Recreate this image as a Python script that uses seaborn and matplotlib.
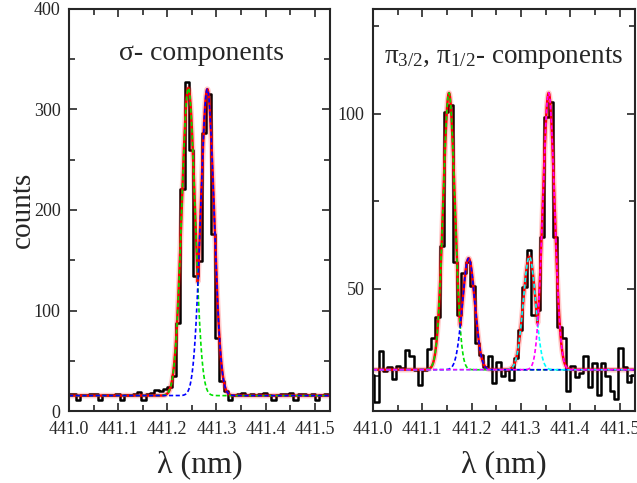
import numpy as np
import pandas as pd
import matplotlib
matplotlib.use('Agg')
import matplotlib.pyplot as plt
from matplotlib.ticker import MultipleLocator, FormatStrFormatter
import seaborn as sns

# --- sigma components (left panel) ---
sigma_x0 = 440.9969          # first bin edge (nm)
bin_w = 0.00883              # bin width (nm)
sigma_counts = [16.5, 16.5, 11, 15.5, 15.5, 16.5, 16.5, 11, 15.5, 15.5,
                15.5, 16.5, 11, 15.5, 15.5, 17, 18.5, 11, 16.5, 17.5,
                20.5, 19.5, 22, 24, 35, 88, 221, 327, 260, 134,
                149, 277, 315, 176, 73, 30, 20, 11, 16, 16.5,
                18, 16, 16.5, 15.5, 16.5, 18, 16, 11, 15.5, 16.5,
                16.5, 17.5, 11, 16.5, 17, 15.5, 17, 11, 15.5, 16.5, 15.5]
sigma_base = 15.3
sigma_centers = [441.2428, 441.2814]
sigma_amps = [306, 305]
sigma_widths = [0.0135, 0.0135]
sigma_colors = ['#00e000', '#0000ff']

# --- pi components (right panel) ---
pi_x0 = 440.99387
pi_counts = [25.3, 17.7, 32.3, 26.3, 27.7, 24.2, 28.0, 27.2, 32.5, 30.8,
             26.8, 22.3, 26.6, 32.7, 35.8, 42.0, 62.3, 100.6, 102.5, 57.5,
             42.5, 54.4, 57.7, 50.8, 34.4, 31.0, 27.7, 30.6, 23.0, 29.1,
             24.9, 26.8, 23.9, 30.1, 38.2, 50.6, 61.0, 42.5, 43.9, 64.9,
             99.0, 103.4, 64.9, 39.1, 35.8, 20.6, 28.0, 24.6, 25.8, 30.6,
             22.0, 28.7, 19.6, 28.7, 24.9, 20.6, 18.4, 33.0, 27.5, 23.4, 25.3]
pi_base = 26.8
pi_centers = [441.154, 441.1938, 441.317, 441.356]
pi_amps = [79.2, 31.9, 32.3, 79.2]
pi_widths = [0.0118, 0.0125, 0.0125, 0.0118]
pi_colors = ['#00e000', '#0000ff', '#00ffff', '#ff00ff']

xlim = (441.0, 441.531)

sns.set_style('ticks')
plt.rcParams['font.family'] = ['Liberation Serif', 'DejaVu Serif']
plt.rcParams['mathtext.fontset'] = 'custom'
plt.rcParams['mathtext.rm'] = 'Liberation Serif'
plt.rcParams['mathtext.it'] = 'Liberation Serif:italic'
plt.rcParams['axes.linewidth'] = 1.5


def hist_frame(x0, counts):
    n = len(counts)
    edges = x0 + bin_w * np.arange(n + 1)
    return pd.DataFrame({'x': edges, 'y': list(counts) + [counts[-1]]})


def draw_panel(ax, x0, counts, base, centers, amps, widths, colors):
    df = hist_frame(x0, counts)
    sns.lineplot(data=df, x='x', y='y', ax=ax, color='black', lw=1.8,
                 drawstyle='steps-post', estimator=None, sort=False)
    xf = np.linspace(xlim[0], xlim[1], 800)
    comps = [a * np.exp(-(xf - c) ** 2 / (2 * w ** 2))
             for c, a, w in zip(centers, amps, widths)]
    total = base + np.max(comps, axis=0)
    ax.plot(xf, total, color='#ff0000', lw=4, alpha=0.2)
    ax.plot(xf, total, color='#ff0000', lw=1.8)
    for comp, col in zip(comps, colors):
        ax.plot(xf, base + comp, color=col, lw=1.2, ls=(0, (2.5, 1.5)))
    ax.set_xlim(*xlim)
    ax.xaxis.set_major_locator(MultipleLocator(0.1))
    ax.xaxis.set_minor_locator(MultipleLocator(0.05))
    ax.xaxis.set_major_formatter(FormatStrFormatter('%.1f'))
    ax.tick_params(which='both', direction='in', top=True, right=True,
                   labelsize=13, width=1.2)
    ax.tick_params(axis='x', which='major', pad=7)
    ax.tick_params(axis='y', which='major', pad=6)
    ax.tick_params(which='major', length=6)
    ax.tick_params(which='minor', length=4)
    ax.set_xlabel('λ (nm)', fontsize=23, labelpad=9)
    ax.set_ylabel('')


fig = plt.figure(figsize=(6.37, 4.83), dpi=100)
ax1 = fig.add_axes([69 / 637, 72 / 483, 261 / 637, 402 / 483])
ax2 = fig.add_axes([373 / 637, 72 / 483, 262 / 637, 402 / 483])

draw_panel(ax1, sigma_x0, sigma_counts, sigma_base, sigma_centers,
           sigma_amps, sigma_widths, sigma_colors)
ax1.set_ylim(0, 400)
ax1.yaxis.set_major_locator(MultipleLocator(100))
ax1.yaxis.set_minor_locator(MultipleLocator(50))
ax1.set_ylabel('counts', fontsize=21)
ax1.yaxis.set_label_coords(-0.125, 0.5)
ax1.text(0.506, 0.872, 'σ- components', transform=ax1.transAxes,
         ha='center', va='baseline', fontsize=20)

draw_panel(ax2, pi_x0, pi_counts, pi_base, pi_centers,
           pi_amps, pi_widths, pi_colors)
ax2.set_ylim(15, 130)
ax2.yaxis.set_major_locator(MultipleLocator(50))
ax2.yaxis.set_minor_locator(MultipleLocator(25))
ax2.text(0.498, 0.866, 'π$_{3/2}$, π$_{1/2}$- components', transform=ax2.transAxes,
         ha='center', va='baseline', fontsize=19.5)

fig.savefig('out.png', dpi=100)
